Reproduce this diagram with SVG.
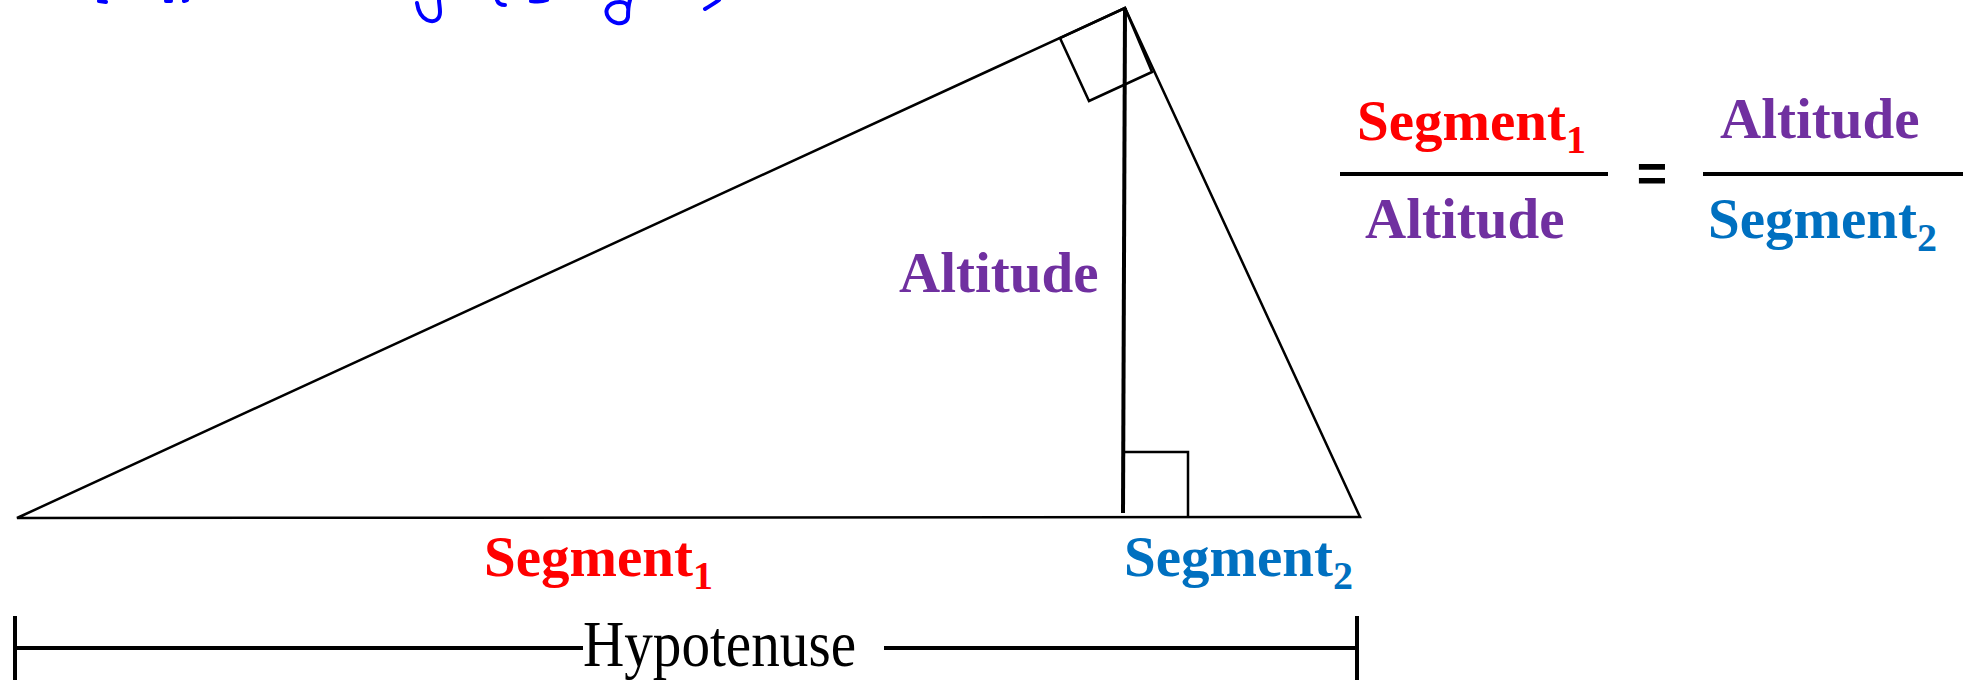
<svg xmlns="http://www.w3.org/2000/svg" width="1963" height="680" viewBox="0 0 1963 680">
<style>
.ln{stroke:#000;stroke-width:2.5;fill:none;stroke-linejoin:miter}
.bold{stroke:#000;stroke-width:4;fill:none}
.ink{stroke:#0000FF;stroke-width:4;fill:none;stroke-linecap:round;stroke-linejoin:round}
.t{font-family:"Liberation Serif","Times New Roman",serif;font-weight:bold;font-size:57px}
.sub{font-size:40px}
.red{fill:#FF0000}
.pur{fill:#7030A0}
.blu{fill:#0070C0}
.hyp{font-family:"Liberation Serif","Times New Roman",serif;font-size:66px;fill:#000}
.eq{font-family:"Liberation Sans",Arial,sans-serif;font-weight:bold;font-size:52px;fill:#000}
</style>
<g id="ink">
<path class="ink" d="M99,1 L106,2"/>
<path class="ink" d="M166,1 L171,1 M184,1 L187,0"/>
<path class="ink" d="M417,3 C418,10 421,17 427,20 C434,23 440,20 440,12 C440,7 439,3 439,0"/>
<path class="ink" d="M497,0 C498,3 501,5 505,5"/>
<path class="ink" d="M531,1 C537,2 542,2 547,0"/>
<path class="ink" d="M630,0 C628,6 628,12 628,17 C627,22 622,24 617,23 C609,21 605,14 607,9 C609,4 614,2 620,2 C624,2 628,4 628,8"/>
<path class="ink" d="M705,9 C710,6 715,3 719,0"/>
</g>
<g id="triangle">
<polygon class="ln" points="17,518 1125,8 1360,517"/>
</g>
<g id="altitude">
<line class="bold" x1="1125" y1="8" x2="1123" y2="513"/>
<polygon class="ln" points="1125,8 1060,38 1089,101 1152,72"/>
<polyline class="ln" points="1125,452 1188,452 1188,517"/>
</g>
<g id="label-altitude">
<text class="t pur" x="899" y="292">Altitude</text>
</g>
<g id="label-seg1">
<text class="t red" x="484" y="576">Segment<tspan class="sub" dy="13">1</tspan></text>
</g>
<g id="label-seg2">
<text class="t blu" x="1124" y="576">Segment<tspan class="sub" dy="13">2</tspan></text>
</g>
<g id="hypotenuse">
<line class="bold" x1="15" y1="616" x2="15" y2="680"/>
<line class="bold" x1="15" y1="648" x2="583" y2="648"/>
<text class="hyp" x="583" y="666" textLength="273" lengthAdjust="spacingAndGlyphs">Hypotenuse</text>
<line class="bold" x1="884" y1="648" x2="1357" y2="648"/>
<line class="bold" x1="1357" y1="616" x2="1357" y2="680"/>
</g>
<g id="equation">
<text class="t red" x="1357" y="140">Segment<tspan class="sub" dy="13">1</tspan></text>
<line class="bold" x1="1340" y1="174" x2="1608" y2="174"/>
<text class="t pur" x="1365" y="238">Altitude</text>
<text class="eq" x="1652" y="191" text-anchor="middle">=</text>
<text class="t pur" x="1720" y="138">Altitude</text>
<line class="bold" x1="1703" y1="174" x2="1963" y2="174"/>
<text class="t blu" x="1708" y="238">Segment<tspan class="sub" dy="13">2</tspan></text>
</g>
</svg>
